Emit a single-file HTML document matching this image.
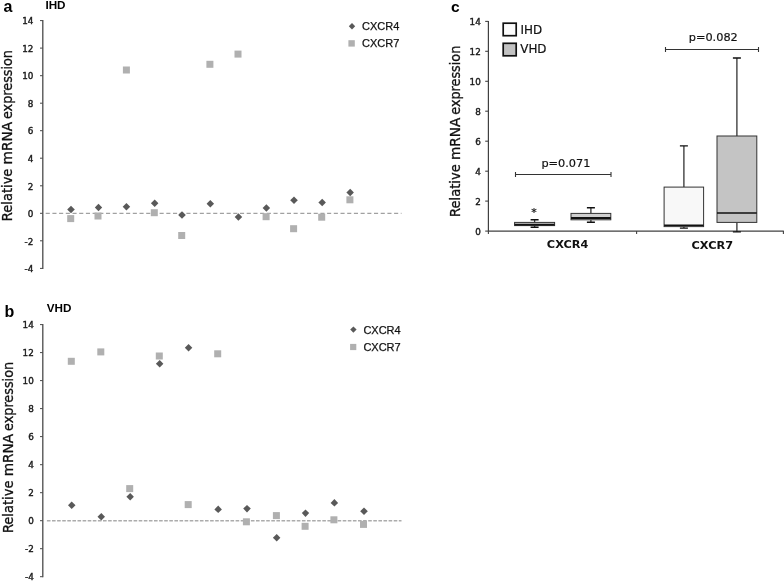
<!DOCTYPE html><html><head><meta charset="utf-8"><title>Figure</title><style>
html,body{margin:0;padding:0;background:#fff}
svg{display:block}
text{font-family:"DejaVu Sans Condensed","DejaVu Sans","Liberation Sans",sans-serif;fill:#111}
.b{font-family:"Liberation Sans",sans-serif;font-weight:bold;fill:#000}
.t{font-family:"DejaVu Sans","Liberation Sans",sans-serif;font-size:8.8px;fill:#1a1a1a;stroke:#1a1a1a;stroke-width:0.4px}
.lg{font-family:"Liberation Sans",sans-serif;font-size:11px;fill:#111;stroke:#111;stroke-width:0.25px}
.v{font-family:"DejaVu Sans","Liberation Sans",sans-serif;stroke:#111;stroke-width:0.2px}
.bd{font-family:"DejaVu Sans","Liberation Sans",sans-serif;font-weight:bold}
</style></head><body>
<svg width="784" height="581" viewBox="0 0 784 581">
<rect width="784" height="581" fill="#fff"/>
<g>
<line x1="42.8" y1="20.1" x2="42.8" y2="268.9" stroke="#4a4a4a" stroke-width="1.3"/>
<line x1="40.0" y1="20.6" x2="42.8" y2="20.6" stroke="#4a4a4a" stroke-width="1"/>
<text class="t" x="33.4" y="24.3" text-anchor="end">14</text>
<line x1="40.0" y1="48.1" x2="42.8" y2="48.1" stroke="#4a4a4a" stroke-width="1"/>
<text class="t" x="33.4" y="51.8" text-anchor="end">12</text>
<line x1="40.0" y1="75.7" x2="42.8" y2="75.7" stroke="#4a4a4a" stroke-width="1"/>
<text class="t" x="33.4" y="79.4" text-anchor="end">10</text>
<line x1="40.0" y1="103.2" x2="42.8" y2="103.2" stroke="#4a4a4a" stroke-width="1"/>
<text class="t" x="33.4" y="106.9" text-anchor="end">8</text>
<line x1="40.0" y1="130.7" x2="42.8" y2="130.7" stroke="#4a4a4a" stroke-width="1"/>
<text class="t" x="33.4" y="134.4" text-anchor="end">6</text>
<line x1="40.0" y1="158.2" x2="42.8" y2="158.2" stroke="#4a4a4a" stroke-width="1"/>
<text class="t" x="33.4" y="161.9" text-anchor="end">4</text>
<line x1="40.0" y1="185.8" x2="42.8" y2="185.8" stroke="#4a4a4a" stroke-width="1"/>
<text class="t" x="33.4" y="189.5" text-anchor="end">2</text>
<line x1="40.0" y1="213.3" x2="42.8" y2="213.3" stroke="#4a4a4a" stroke-width="1"/>
<text class="t" x="33.4" y="217.0" text-anchor="end">0</text>
<line x1="40.0" y1="240.8" x2="42.8" y2="240.8" stroke="#4a4a4a" stroke-width="1"/>
<text class="t" x="33.4" y="244.5" text-anchor="end">-2</text>
<line x1="40.0" y1="268.4" x2="42.8" y2="268.4" stroke="#4a4a4a" stroke-width="1"/>
<text class="t" x="33.4" y="272.1" text-anchor="end">-4</text>
<line x1="45.7" y1="213.3" x2="401.5" y2="213.3" stroke="#8a8a8a" stroke-width="1" stroke-dasharray="4.1 2.6"/>
<rect x="67.2" y="215.1" width="7" height="7" fill="#b0b0b0"/>
<rect x="94.5" y="212.5" width="7" height="7" fill="#b0b0b0"/>
<rect x="122.9" y="66.5" width="7" height="7" fill="#b0b0b0"/>
<rect x="150.8" y="209.2" width="7" height="7" fill="#b0b0b0"/>
<rect x="178.2" y="232.0" width="7" height="7" fill="#b0b0b0"/>
<rect x="206.4" y="60.8" width="7" height="7" fill="#b0b0b0"/>
<rect x="234.5" y="50.6" width="7" height="7" fill="#b0b0b0"/>
<rect x="262.6" y="213.2" width="7" height="7" fill="#b0b0b0"/>
<rect x="290.1" y="225.2" width="7" height="7" fill="#b0b0b0"/>
<rect x="318.2" y="213.7" width="7" height="7" fill="#b0b0b0"/>
<rect x="346.4" y="196.3" width="7" height="7" fill="#b0b0b0"/>
<path d="M71.0 205.8L74.8 209.6L71.0 213.3L67.2 209.6Z" fill="#595959"/>
<path d="M98.5 203.8L102.2 207.6L98.5 211.3L94.8 207.6Z" fill="#595959"/>
<path d="M126.4 202.9L130.2 206.7L126.4 210.4L122.7 206.7Z" fill="#595959"/>
<path d="M154.7 199.4L158.4 203.2L154.7 206.9L150.9 203.2Z" fill="#595959"/>
<path d="M182.0 211.2L185.8 215.0L182.0 218.8L178.2 215.0Z" fill="#595959"/>
<path d="M210.3 200.1L214.1 203.8L210.3 207.6L206.6 203.8Z" fill="#595959"/>
<path d="M238.4 213.2L242.2 217.0L238.4 220.8L234.7 217.0Z" fill="#595959"/>
<path d="M266.4 204.3L270.1 208.1L266.4 211.8L262.6 208.1Z" fill="#595959"/>
<path d="M294.0 196.6L297.8 200.3L294.0 204.1L290.2 200.3Z" fill="#595959"/>
<path d="M322.2 198.7L325.9 202.4L322.2 206.2L318.4 202.4Z" fill="#595959"/>
<path d="M350.2 188.7L353.9 192.4L350.2 196.2L346.4 192.4Z" fill="#595959"/>
</g>
<text class="b" x="3.6" y="11.8" font-size="16">a</text>
<text class="b" x="45.4" y="9.1" font-size="11.7">IHD</text>
<path d="M352.0 23.0L355.2 26.2L352.0 29.4L348.8 26.2Z" fill="#595959"/>
<rect x="348.4" y="40.2" width="6.4" height="6.4" fill="#b0b0b0"/>
<text class="lg" x="362" y="30.4">CXCR4</text>
<text class="lg" x="362" y="47.2">CXCR7</text>
<text transform="translate(12,220.4) rotate(-90)" font-size="14.2" stroke="#111" stroke-width="0.3"><tspan x="-0.8" textLength="52.6" lengthAdjust="spacingAndGlyphs">Relative</tspan> <tspan x="56" textLength="42.4" lengthAdjust="spacingAndGlyphs">mRNA</tspan> <tspan x="101.4" textLength="69" lengthAdjust="spacingAndGlyphs">expression</tspan></text>
<g>
<line x1="42.8" y1="324.1" x2="42.8" y2="577.2" stroke="#4a4a4a" stroke-width="1.3"/>
<line x1="40.0" y1="324.6" x2="42.8" y2="324.6" stroke="#4a4a4a" stroke-width="1"/>
<text class="t" x="33.8" y="328.3" text-anchor="end">14</text>
<line x1="40.0" y1="352.6" x2="42.8" y2="352.6" stroke="#4a4a4a" stroke-width="1"/>
<text class="t" x="33.8" y="356.3" text-anchor="end">12</text>
<line x1="40.0" y1="380.6" x2="42.8" y2="380.6" stroke="#4a4a4a" stroke-width="1"/>
<text class="t" x="33.8" y="384.3" text-anchor="end">10</text>
<line x1="40.0" y1="408.6" x2="42.8" y2="408.6" stroke="#4a4a4a" stroke-width="1"/>
<text class="t" x="33.8" y="412.3" text-anchor="end">8</text>
<line x1="40.0" y1="436.6" x2="42.8" y2="436.6" stroke="#4a4a4a" stroke-width="1"/>
<text class="t" x="33.8" y="440.3" text-anchor="end">6</text>
<line x1="40.0" y1="464.7" x2="42.8" y2="464.7" stroke="#4a4a4a" stroke-width="1"/>
<text class="t" x="33.8" y="468.4" text-anchor="end">4</text>
<line x1="40.0" y1="492.7" x2="42.8" y2="492.7" stroke="#4a4a4a" stroke-width="1"/>
<text class="t" x="33.8" y="496.4" text-anchor="end">2</text>
<line x1="40.0" y1="520.7" x2="42.8" y2="520.7" stroke="#4a4a4a" stroke-width="1"/>
<text class="t" x="33.8" y="524.4" text-anchor="end">0</text>
<line x1="40.0" y1="548.7" x2="42.8" y2="548.7" stroke="#4a4a4a" stroke-width="1"/>
<text class="t" x="33.8" y="552.4" text-anchor="end">-2</text>
<line x1="40.0" y1="576.7" x2="42.8" y2="576.7" stroke="#4a4a4a" stroke-width="1"/>
<text class="t" x="33.8" y="580.4" text-anchor="end">-4</text>
<line x1="46.9" y1="520.7" x2="401.5" y2="520.7" stroke="#acacac" stroke-width="1.6" stroke-dasharray="3.6 1.5"/>
<rect x="67.8" y="357.8" width="7" height="7" fill="#b0b0b0"/>
<rect x="97.3" y="348.4" width="7" height="7" fill="#b0b0b0"/>
<rect x="126.2" y="485.1" width="7" height="7" fill="#b0b0b0"/>
<rect x="155.8" y="352.5" width="7" height="7" fill="#b0b0b0"/>
<rect x="184.7" y="501.1" width="7" height="7" fill="#b0b0b0"/>
<rect x="214.2" y="350.3" width="7" height="7" fill="#b0b0b0"/>
<rect x="242.9" y="518.3" width="7" height="7" fill="#b0b0b0"/>
<rect x="272.9" y="512.1" width="7" height="7" fill="#b0b0b0"/>
<rect x="301.6" y="522.8" width="7" height="7" fill="#b0b0b0"/>
<rect x="330.4" y="516.3" width="7" height="7" fill="#b0b0b0"/>
<rect x="360.0" y="520.9" width="7" height="7" fill="#b0b0b0"/>
<path d="M71.7 501.6L75.5 505.3L71.7 509.1L68.0 505.3Z" fill="#595959"/>
<path d="M101.3 513.0L105.0 516.7L101.3 520.5L97.5 516.7Z" fill="#595959"/>
<path d="M130.2 492.9L133.9 496.7L130.2 500.4L126.4 496.7Z" fill="#595959"/>
<path d="M159.7 360.1L163.4 363.8L159.7 367.6L155.9 363.8Z" fill="#595959"/>
<path d="M188.6 343.9L192.3 347.7L188.6 351.4L184.8 347.7Z" fill="#595959"/>
<path d="M218.2 505.6L221.9 509.4L218.2 513.1L214.4 509.4Z" fill="#595959"/>
<path d="M247.0 504.9L250.8 508.6L247.0 512.4L243.2 508.6Z" fill="#595959"/>
<path d="M276.7 534.0L280.4 537.7L276.7 541.5L272.9 537.7Z" fill="#595959"/>
<path d="M305.5 509.4L309.2 513.1L305.5 516.9L301.8 513.1Z" fill="#595959"/>
<path d="M334.4 499.1L338.1 502.9L334.4 506.6L330.6 502.9Z" fill="#595959"/>
<path d="M364.0 507.4L367.8 511.2L364.0 515.0L360.2 511.2Z" fill="#595959"/>
</g>
<text class="b" x="4.4" y="316.8" font-size="16">b</text>
<text class="b" x="46.8" y="311.7" font-size="11.7">VHD</text>
<path d="M353.4 326.4L356.6 329.6L353.4 332.8L350.2 329.6Z" fill="#595959"/>
<rect x="350.1" y="343.9" width="6.2" height="6.2" fill="#b0b0b0"/>
<text class="lg" x="363.4" y="333.7">CXCR4</text>
<text class="lg" x="363.4" y="350.8">CXCR7</text>
<text transform="translate(12.9,532.3) rotate(-90)" font-size="14.2" stroke="#111" stroke-width="0.3"><tspan x="-0.8" textLength="52.6" lengthAdjust="spacingAndGlyphs">Relative</tspan> <tspan x="56" textLength="42.4" lengthAdjust="spacingAndGlyphs">mRNA</tspan> <tspan x="101.4" textLength="69" lengthAdjust="spacingAndGlyphs">expression</tspan></text>
<g>
<line x1="488.4" y1="20.9" x2="488.4" y2="231.55" stroke="#404040" stroke-width="1.2"/>
<line x1="488.4" y1="231.1" x2="783.8" y2="231.1" stroke="#404040" stroke-width="1.2"/>
<line x1="485.2" y1="21.4" x2="488.4" y2="21.4" stroke="#444" stroke-width="1.1"/>
<text class="t" x="480.8" y="24.8" text-anchor="end">14</text>
<line x1="485.2" y1="51.3" x2="488.4" y2="51.3" stroke="#444" stroke-width="1.1"/>
<text class="t" x="480.8" y="54.7" text-anchor="end">12</text>
<line x1="485.2" y1="81.3" x2="488.4" y2="81.3" stroke="#444" stroke-width="1.1"/>
<text class="t" x="480.8" y="84.7" text-anchor="end">10</text>
<line x1="485.2" y1="111.2" x2="488.4" y2="111.2" stroke="#444" stroke-width="1.1"/>
<text class="t" x="480.8" y="114.7" text-anchor="end">8</text>
<line x1="485.2" y1="141.2" x2="488.4" y2="141.2" stroke="#444" stroke-width="1.1"/>
<text class="t" x="480.8" y="144.6" text-anchor="end">6</text>
<line x1="485.2" y1="171.2" x2="488.4" y2="171.2" stroke="#444" stroke-width="1.1"/>
<text class="t" x="480.8" y="174.6" text-anchor="end">4</text>
<line x1="485.2" y1="201.1" x2="488.4" y2="201.1" stroke="#444" stroke-width="1.1"/>
<text class="t" x="480.8" y="204.5" text-anchor="end">2</text>
<line x1="485.2" y1="231.1" x2="488.4" y2="231.1" stroke="#444" stroke-width="1.1"/>
<text class="t" x="480.8" y="234.5" text-anchor="end">0</text>
<line x1="488.4" y1="231.1" x2="488.4" y2="234.1" stroke="#444" stroke-width="1.1"/>
<line x1="636.6" y1="231.1" x2="636.6" y2="234.1" stroke="#444" stroke-width="1.1"/>
<line x1="783.4" y1="231.1" x2="783.4" y2="234.1" stroke="#444" stroke-width="1.1"/>
<text class="b" x="451" y="12" font-size="15.5">c</text>
<text transform="translate(459.5,216.1) rotate(-90)" font-size="14.2" stroke="#111" stroke-width="0.3"><tspan x="-0.8" textLength="52.6" lengthAdjust="spacingAndGlyphs">Relative</tspan> <tspan x="56" textLength="42.4" lengthAdjust="spacingAndGlyphs">mRNA</tspan> <tspan x="101.4" textLength="69" lengthAdjust="spacingAndGlyphs">expression</tspan></text>
<rect x="503.2" y="23.2" width="13" height="12.5" fill="#fcfcfc" stroke="#111" stroke-width="1.7"/>
<rect x="503.2" y="43.3" width="13" height="12.5" fill="#c2c2c2" stroke="#111" stroke-width="1.7"/>
<text class="v" x="520.6" y="33.8" font-size="11.9">IHD</text>
<text class="v" x="520.3" y="53" font-size="11.9">VHD</text>
<path d="M515.5 171.9V177.1M515.5 174.5H611M611 171.9V177.1" stroke="#333" stroke-width="1.1" fill="none"/>
<text class="v" x="565.9" y="167" font-size="11.3" text-anchor="middle">p=0.071</text>
<path d="M665.5 46.9V52.1M665.5 49.5H758.5M758.5 46.9V52.1" stroke="#333" stroke-width="1.1" fill="none"/>
<text class="v" x="713.3" y="41.2" font-size="11.3" text-anchor="middle">p=0.082</text>
<path d="M534.6 219.8V222.4M534.6 225.6V227.3" stroke="#333" stroke-width="1.3" fill="none"/>
<path d="M530.6 219.8H538.6M530.6 227.3H538.6" stroke="#111" stroke-width="1.4" fill="none"/>
<rect x="514.6" y="222.4" width="40.0" height="3.2" fill="#d9d9d9" stroke="#333" stroke-width="1"/>
<line x1="514.6" y1="224.6" x2="554.6" y2="224.6" stroke="#111" stroke-width="1.9"/>
<path d="M590.9 207.7V213.4M590.9 219.8V222.3" stroke="#333" stroke-width="1.3" fill="none"/>
<path d="M586.9 207.7H594.9M586.9 222.3H594.9" stroke="#111" stroke-width="1.4" fill="none"/>
<rect x="571" y="213.4" width="39.8" height="6.4" fill="#cfcfcf" stroke="#333" stroke-width="1"/>
<line x1="571" y1="218" x2="610.8" y2="218" stroke="#111" stroke-width="2"/>
<path d="M683.9 145.9V187.1M683.9 226.6V228.1" stroke="#333" stroke-width="1.3" fill="none"/>
<path d="M679.9 145.9H687.9M679.9 228.1H687.9" stroke="#111" stroke-width="1.4" fill="none"/>
<rect x="664.1" y="187.1" width="39.5" height="39.5" fill="#f8f8f8" stroke="#333" stroke-width="1"/>
<line x1="664.1" y1="225.2" x2="703.6" y2="225.2" stroke="#111" stroke-width="1.5"/>
<path d="M736.9 58V136M736.9 222.4V231.9" stroke="#333" stroke-width="1.3" fill="none"/>
<path d="M732.9 58H740.9M732.9 231.9H740.9" stroke="#111" stroke-width="1.4" fill="none"/>
<rect x="717" y="136" width="39.8" height="86.4" fill="#c4c4c4" stroke="#333" stroke-width="1"/>
<line x1="717" y1="212.9" x2="756.8" y2="212.9" stroke="#111" stroke-width="1.5"/>
<text class="v" x="534.1" y="216.1" font-size="11" text-anchor="middle" fill="#777" stroke="none">*</text>
<text class="bd" x="567.6" y="248.2" font-size="11.3" text-anchor="middle">CXCR4</text>
<text class="bd" x="712.3" y="248.9" font-size="11.3" text-anchor="middle">CXCR7</text>
</g>
</svg></body></html>
